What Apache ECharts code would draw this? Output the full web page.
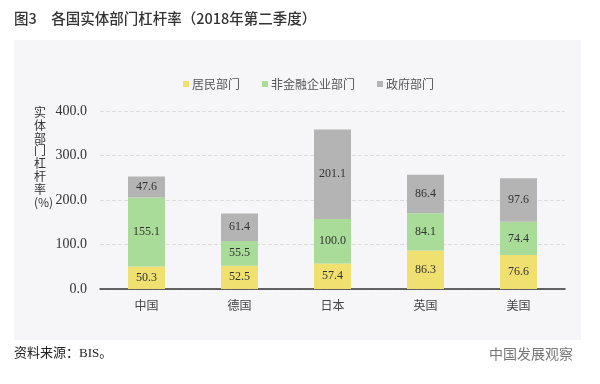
<!DOCTYPE html>
<html><head><meta charset="utf-8">
<script src="https://cdn.jsdelivr.net/npm/echarts@6/dist/echarts.min.js"></script>
<style>html,body{margin:0;padding:0;background:#fff}#c{width:600px;height:384px}</style>
</head><body><div id="c"></div>
<script>
var categories = ['中国','德国','日本','英国','美国'];
var household = [50.3, 52.5, 57.4, 86.3, 76.6];
var nonFinCorp = [155.1, 55.5, 100.0, 84.1, 74.4];
var government = [47.6, 61.4, 201.1, 86.4, 97.6];
var seriesNames = ['居民部门','非金融企业部门','政府部门'];
var colors = ['#f0e070','#a9dc98','#b4b4b4'];

var chart = echarts.init(document.getElementById('c'));
var serif = '"Liberation Serif","DejaVu Serif",serif';
var cjk = '"Noto Sans CJK SC",sans-serif';
function mk(name, data, color){
  return {name:name,type:'bar',stack:'t',data:data,barWidth:37,
    itemStyle:{color:color},
    label:{show:true,position:'inside',formatter:function(p){return p.value.toFixed(1);},
      fontFamily:serif,fontSize:12,color:'#333'}};
}
chart.setOption({
  animation:false,
  backgroundColor:'#fff',
  graphic:[
    {type:'rect',shape:{x:14,y:40,width:567,height:300},style:{fill:'#f6f6f8'},z:-10},
    {type:'text',left:14,top:11,style:{text:'图3　各国实体部门杠杆率（2018年第二季度）',font:'500 14.5px '+cjk,fill:'#333'}},
    {type:'text',left:34,top:106,style:{text:'实\n体\n部\n门\n杠\n杆\n率\n(%)',font:'12px '+cjk,fill:'#333',lineHeight:12.8,align:'center'}},
    {type:'text',left:14,top:347,style:{text:'资料来源：BIS。',font:'13px '+serif+',"Noto Sans CJK SC"',fill:'#222'}},
    {type:'text',left:489,top:347,style:{text:'中国发展观察',font:'14px '+cjk,fill:'#777'}}
  ],
  legend:{top:73,left:178,itemWidth:6,itemHeight:6,itemGap:22,icon:'rect',
    textStyle:{fontFamily:cjk,fontSize:12,color:'#555',padding:[0,0,0,-2]},data:seriesNames},
  grid:{left:100,right:35,top:111,bottom:95},
  xAxis:{type:'category',data:categories,
    axisLine:{lineStyle:{color:'#333',width:1.5}},
    axisTick:{inside:true,length:4,lineStyle:{color:'#333'}},
    axisLabel:{fontFamily:cjk,fontSize:12,color:'#444',margin:10}},
  yAxis:{type:'value',min:0,max:400,interval:100,
    axisLine:{show:false},axisTick:{show:false},
    axisLabel:{fontFamily:serif,fontSize:14,color:'#333',margin:13,formatter:function(v){return v.toFixed(1);}},
    splitLine:{lineStyle:{color:'#dcdcdc',type:'dashed'}}},
  series:[mk(seriesNames[0],household,colors[0]),mk(seriesNames[1],nonFinCorp,colors[1]),mk(seriesNames[2],government,colors[2])]
});
</script></body></html>
